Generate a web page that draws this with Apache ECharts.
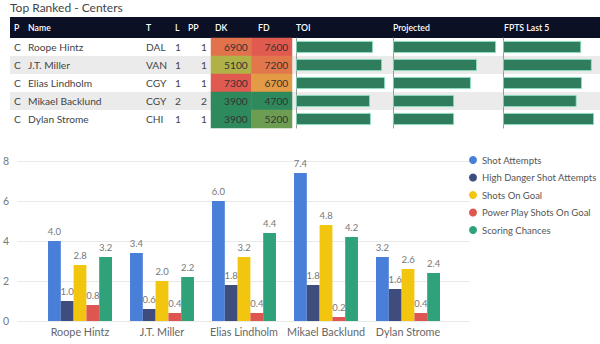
<!DOCTYPE html>
<html>
<head>
<meta charset="utf-8">
<script src="https://cdn.jsdelivr.net/npm/echarts@6/dist/echarts.min.js"></script>
<style>html,body{margin:0;padding:0;background:#fff}#c{width:600px;height:344px}</style>
</head>
<body>
<div id="c"></div>
<script>
// ---- Table data ----
const players = ['Roope Hintz', 'J.T. Miller', 'Elias Lindholm', 'Mikael Backlund', 'Dylan Strome'];
const positions = ['C', 'C', 'C', 'C', 'C'];
const teams = ['DAL', 'VAN', 'CGY', 'CGY', 'CHI'];
const lines = [1, 1, 1, 2, 1];
const ppUnits = [1, 1, 1, 2, 1];
const dkSalary = [6900, 5100, 7300, 3900, 3900];
const fdSalary = [7600, 7200, 6700, 4700, 5200];
const toi = [17.9, 20.0, 20.7, 17.2, 17.4];
const projected = [13.5, 11.0, 10.2, 8.0, 8.0];
const fptsLast5 = [10.3, 11.7, 10.4, 9.7, 12.0];
const tableHeaders = ['P', 'Name', 'T', 'L', 'PP', 'DK', 'FD', 'TOI', 'Projected', 'FPTS Last 5'];

// ---- Bar chart data ----
const seriesNames = ['Shot Attempts', 'High Danger Shot Attempts', 'Shots On Goal', 'Power Play Shots On Goal', 'Scoring Chances'];
const shotAttempts = [4.0, 3.4, 6.0, 7.4, 3.2];
const hdShotAttempts = [1.0, 0.6, 1.8, 1.8, 1.6];
const shotsOnGoal = [2.8, 2.0, 3.2, 4.8, 2.6];
const ppShotsOnGoal = [0.8, 0.4, 0.4, 0.2, 0.4];
const scoringChances = [3.2, 2.2, 4.4, 4.2, 2.4];
const yMax = 8, yInterval = 2;

const FONT = "Lato, 'Open Sans', sans-serif";
const seriesColors = ['#4a7fd9', '#3f4d7e', '#f2c50f', '#de5650', '#30a27a'];

const chart = echarts.init(document.getElementById('c'), null, {renderer: 'svg'});

const grids = [], xAxes = [], yAxes = [], series = [], visualMaps = [];
const TT = 38, TH = 90; // table body top / height
function addGrid(g, xa, ya) {
  grids.push(g);
  const gi = grids.length - 1;
  xAxes.push(Object.assign({gridIndex: gi}, xa));
  yAxes.push(Object.assign({gridIndex: gi}, ya));
  return gi;
}
const hiddenVal = {type: 'value', show: false};
function catRows(extra) {
  return Object.assign({type: 'category', data: players, inverse: true, axisLine: {show: false}, axisTick: {show: false}, axisLabel: {show: false}, splitLine: {show: false}}, extra || {});
}

// background row stripes
addGrid({left: 10, width: 590, top: TT, height: TH}, hiddenVal,
  catRows({splitArea: {show: true, areaStyle: {color: ['#ffffff', '#ebebeb']}}}));

// text columns
function textCol(left, values, align) {
  addGrid({left: left, width: 1, top: TT, height: TH}, hiddenVal,
    catRows({data: values.map(String), axisLabel: {show: true, align: align, margin: 0, color: '#444', fontSize: 10.2, fontFamily: FONT}}));
}
textCol(14, positions, 'left');
textCol(28, players, 'left');
textCol(146, teams, 'left');
textCol(175, lines, 'left');
textCol(207, ppUnits, 'right');

// DK / FD heatmap cells
const hmGrid = addGrid({left: 211, width: 81, top: TT, height: TH},
  {type: 'category', data: ['DK', 'FD'], show: false},
  catRows());
[dkSalary, fdSalary].forEach((arr, k) => {
  series.push({
    type: 'heatmap', xAxisIndex: hmGrid, yAxisIndex: hmGrid,
    data: arr.map((v, i) => [k, i, v]),
    label: {show: true, position: 'insideRight', distance: 4, color: '#333', fontSize: 10.2, fontFamily: FONT, formatter: p => p.value[2]},
    itemStyle: {borderWidth: 0}
  });
  visualMaps.push({show: false, seriesIndex: series.length - 1, dimension: 2,
    min: Math.min(...arr), max: Math.max(...arr),
    inRange: {color: ['#2e8a5c', '#e6c23e', '#e15a50']}});
});

// data bar columns
function dataBars(left, width, values) {
  const gi = addGrid({left: left, width: width, top: TT, height: TH},
    {type: 'value', show: false, min: 0, max: 'dataMax'},
    catRows({axisLine: {show: true, lineStyle: {color: '#9a9a9a', width: 1}}}));
  series.push({type: 'bar', xAxisIndex: gi, yAxisIndex: gi, data: values, barWidth: 12,
    itemStyle: {color: '#2f7d5c', borderColor: '#8fe3c6', borderWidth: 0.8}, silent: true});
}
dataBars(296, 89, toi);
dataBars(393, 103, projected);
dataBars(503, 91, fptsLast5);

// clustered column chart: gridline grid
const CT = 161, CH = 160;
addGrid({left: 17, right: 130, top: CT, height: CH},
  {type: 'category', data: players, show: false},
  {type: 'value', min: 0, max: yMax, interval: yInterval,
   axisLine: {show: false}, axisTick: {show: false},
   splitLine: {lineStyle: {color: '#e9e9e9', width: 1}},
   axisLabel: {align: 'left', margin: 14, color: '#777', fontSize: 10.5, fontFamily: FONT}});
const barGrid = addGrid({left: 39, width: 410, top: CT, height: CH},
  {type: 'category', data: players, axisLine: {show: false}, axisTick: {show: false},
   axisLabel: {interval: 0, color: '#666', fontSize: 10.8, margin: 5, fontFamily: FONT}},
  {type: 'value', min: 0, max: yMax, show: false, splitLine: {show: false}});
[shotAttempts, hdShotAttempts, shotsOnGoal, ppShotsOnGoal, scoringChances].forEach((arr, k) => {
  series.push({
    type: 'bar', name: seriesNames[k], xAxisIndex: barGrid, yAxisIndex: barGrid,
    data: arr, barGap: '0%', barCategoryGap: '22%',
    itemStyle: {color: seriesColors[k]},
    label: {show: true, position: 'top', distance: 5, color: '#777', fontSize: 9.5, fontFamily: FONT,
      formatter: p => p.value.toFixed(1)}
  });
});

const headerX = [14, 28, 146, 175, 188, 215, 258, 296, 393, 504];
const graphics = [
  {type: 'text', left: 10, top: 1, style: {text: 'Top Ranked - Centers', fill: '#444', fontSize: 12, fontFamily: FONT}},
  {type: 'rect', shape: {x: 10, y: 17, width: 590, height: 21}, style: {fill: '#0b1024'}}
].concat(tableHeaders.map((h, i) => ({
  type: 'text', x: headerX[i], y: 27.5,
  style: {text: h, fill: '#ffffff', fontSize: 8.7, fontWeight: 600, fontFamily: FONT, verticalAlign: 'middle'}
})));

chart.setOption({
  animation: false,
  textStyle: {fontFamily: FONT},
  grid: grids, xAxis: xAxes, yAxis: yAxes, series: series, visualMap: visualMaps,
  legend: {
    data: seriesNames, orient: 'vertical', left: 469, top: 155, padding: 0,
    icon: 'circle', itemWidth: 8, itemHeight: 8, itemGap: 7.5,
    textStyle: {color: '#555', fontSize: 9.5, fontFamily: FONT}
  },
  graphic: graphics
});
</script>
</body>
</html>
